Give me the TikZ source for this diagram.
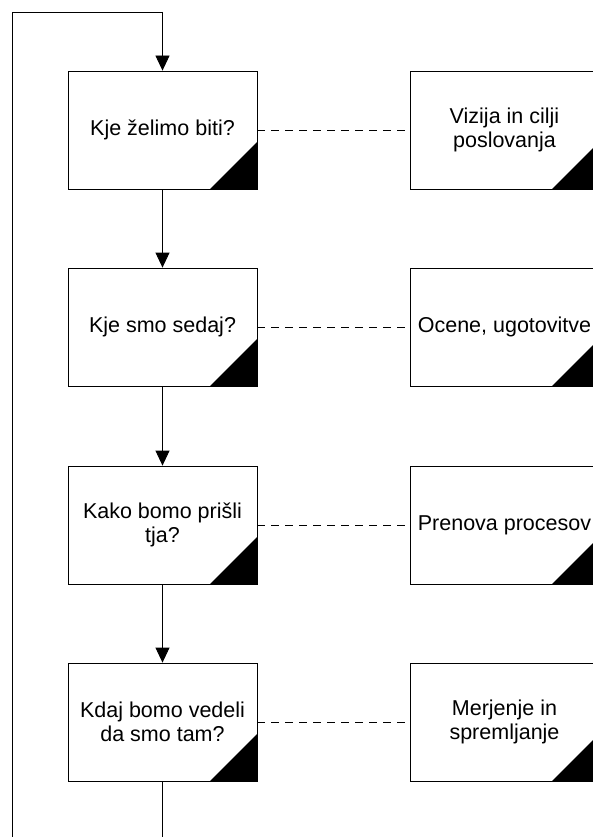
\documentclass[tikz,border=0pt]{standalone}
\usepackage{fontspec}
\setmainfont{Liberation Sans}
\usetikzlibrary{arrows.meta}
\begin{document}
\begin{tikzpicture}[x=1pt,y=-1pt,
  every node/.style={font=\fontsize{21.5}{24}\selectfont},
  stage/.style={draw=black, line width=0.8pt, fill=white, rectangle,
    minimum width=189pt, minimum height=118pt, inner sep=0pt, align=center,
    path picture={\fill[black] (path picture bounding box.south east)
      -- ++(-47pt,0pt) -- ++(47pt,47pt) -- cycle;}},
  flow/.style={draw=black, line width=0.8pt},
  flowarrow/.style={flow, -{Triangle[width=14pt,length=15pt]}},
  link/.style={draw=black, line width=0.8pt, dash pattern=on 8pt off 6pt}
]
\useasboundingbox (0,0) rectangle (593,837);
\clip (0,0) rectangle (593,837);

% questions on the left
\node[stage] (q1) at (162.5,130) {Kje želimo biti?};
\node[stage] (q2) at (162.5,327) {Kje smo sedaj?};
\node[stage] (q3) at (162.5,525) {Kako bomo prišli\\tja?};
\node[stage] (q4) at (162.5,722) {Kdaj bomo vedeli\\da smo tam?};

% answers on the right
\node[stage] (a1) at (504.5,130) {Vizija in cilji\\poslovanja};
\node[stage] (a2) at (504.5,327) {Ocene, ugotovitve};
\node[stage] (a3) at (504.5,525) {Prenova procesov};
\node[stage] (a4) at (504.5,722) {Merjenje in\\spremljanje};

% feedback loop
\coordinate (loopbottom) at (12,837);
\coordinate (loopcorner) at (12,12);
\coordinate (looptop) at (162.5,12);
\coordinate (tail) at (162.5,837);
\draw[flow] (loopbottom) -- (loopcorner) -- (looptop);
\draw[flowarrow] (looptop) -- (q1.north);

% main sequence
\draw[flowarrow] (q1.south) -- (q2.north);
\draw[flowarrow] (q2.south) -- (q3.north);
\draw[flowarrow] (q3.south) -- (q4.north);
\draw[flow] (q4.south) -- (tail);

% question-answer links
\draw[link] (q1.east) -- (a1.west);
\draw[link] (q2.east) -- (a2.west);
\draw[link] (q3.east) -- (a3.west);
\draw[link] (q4.east) -- (a4.west);
\end{tikzpicture}
\end{document}
